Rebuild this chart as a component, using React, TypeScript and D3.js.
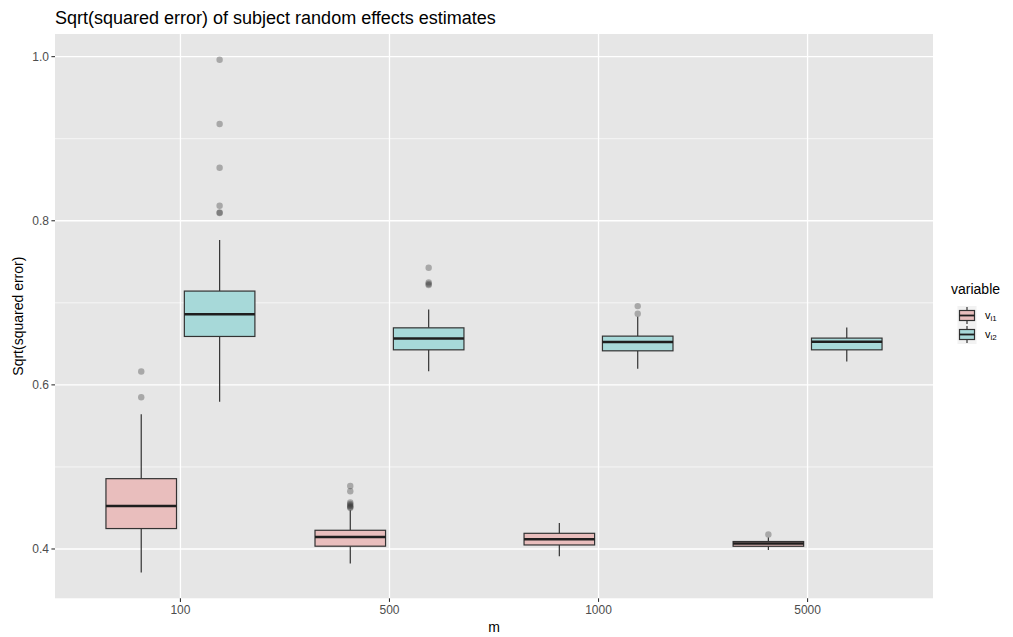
import React from "react";
import * as d3 from "d3";

const categories = ["100", "500", "1000", "5000"];
const seriesKeys = ["vi1", "vi2"];
const seriesColors = ["#E9BEBD", "#A7D9D9"];
const yTicks = [0.4, 0.6, 0.8, 1.0];
const yMinorTicks = [0.5, 0.7, 0.9];

// vi1
const vi1Low = [0.3712, 0.3822, 0.3911, 0.3988];
const vi1Q1 = [0.4249, 0.4034, 0.4049, 0.4033];
const vi1Med = [0.4524, 0.4146, 0.4118, 0.4066];
const vi1Q3 = [0.4857, 0.4228, 0.4191, 0.4091];
const vi1High = [0.5643, 0.4472, 0.4317, 0.414];
const vi1Out = [
  [0.6163, 0.585],
  [0.4768, 0.4704, 0.4568, 0.455, 0.4535, 0.4522, 0.451, 0.45],
  [],
  [0.4176],
];

// vi2
const vi2Low = [0.5793, 0.6167, 0.6195, 0.6285];
const vi2Q1 = [0.659, 0.6427, 0.6415, 0.6427];
const vi2Med = [0.6862, 0.6566, 0.6521, 0.6524];
const vi2Q3 = [0.7143, 0.6695, 0.6594, 0.657];
const vi2High = [0.7765, 0.692, 0.683, 0.67];
const vi2Out = [
  [0.9963, 0.918, 0.8646, 0.8183, 0.81, 0.8094],
  [0.7427, 0.7249, 0.723, 0.7216],
  [0.696, 0.6866],
  [],
];

const W = 1013;
const H = 637;
const panel = { left: 55, right: 933, top: 34, bottom: 598.3 };
const FONT = "'Liberation Sans', Arial, Helvetica, sans-serif";

export default function App() {
  const x = d3
    .scalePoint<string>()
    .domain(categories)
    .range([panel.left, panel.right])
    .padding(0.6);
  const step = x.step();
  const y = d3.scaleLinear().domain([0.3399, 1.0276]).range([panel.bottom, panel.top]);

  const series = [
    { key: "vi1", low: vi1Low, q1: vi1Q1, med: vi1Med, q3: vi1Q3, high: vi1High, out: vi1Out },
    { key: "vi2", low: vi2Low, q1: vi2Q1, med: vi2Med, q3: vi2Q3, high: vi2High, out: vi2Out },
  ];
  const dodge = d3.scaleBand<string>().domain(seriesKeys).range([-0.375 * step, 0.375 * step]);
  const boxW = dodge.bandwidth() * 0.9;

  const lineCol = "#333333";

  return (
    <svg width={W} height={H} style={{ display: "block", position: "absolute", left: 0, top: 0 }}>
      <rect x={0} y={0} width={W} height={H} fill="#ffffff" />
      {/* panel */}
      <rect x={panel.left} y={panel.top} width={panel.right - panel.left} height={panel.bottom - panel.top} fill="#E6E6E6" />
      {yMinorTicks.map((t) => (
        <line key={"mn" + t} x1={panel.left} x2={panel.right} y1={y(t)} y2={y(t)} stroke="#fff" strokeWidth={0.65} />
      ))}
      {yTicks.map((t) => (
        <line key={"mj" + t} x1={panel.left} x2={panel.right} y1={y(t)} y2={y(t)} stroke="#fff" strokeWidth={1.3} />
      ))}
      {categories.map((c) => (
        <line key={"vx" + c} x1={x(c)} x2={x(c)} y1={panel.top} y2={panel.bottom} stroke="#fff" strokeWidth={1.3} />
      ))}

      {/* boxes */}
      {series.map((s, si) =>
        categories.map((c, ci) => {
          const cx = (x(c) as number) + (dodge(s.key) as number) + dodge.bandwidth() / 2;
          return (
            <g key={s.key + c}>
              <line x1={cx} x2={cx} y1={y(s.high[ci])} y2={y(s.q3[ci])} stroke={lineCol} strokeWidth={1.2} />
              <line x1={cx} x2={cx} y1={y(s.q1[ci])} y2={y(s.low[ci])} stroke={lineCol} strokeWidth={1.2} />
              <rect
                x={cx - boxW / 2}
                y={y(s.q3[ci])}
                width={boxW}
                height={y(s.q1[ci]) - y(s.q3[ci])}
                fill={seriesColors[si]}
                stroke={lineCol}
                strokeWidth={1.2}
              />
              <line x1={cx - boxW / 2} x2={cx + boxW / 2} y1={y(s.med[ci])} y2={y(s.med[ci])} stroke="#1e1e1e" strokeWidth={2.5} />
              {s.out[ci].map((v, k) => (
                <circle key={k} cx={cx} cy={y(v)} r={3.2} fill="#333" fillOpacity={0.35} />
              ))}
            </g>
          );
        })
      )}

      {/* y axis */}
      {yTicks.map((t) => (
        <g key={"yt" + t}>
          <line x1={panel.left - 3.6} x2={panel.left} y1={y(t)} y2={y(t)} stroke="#333" strokeWidth={1.1} />
          <text x={panel.left - 6} y={y(t)} dy="0.35em" textAnchor="end" fontSize={12} fill="#4D4D4D" fontFamily={FONT}>
            {t.toFixed(1)}
          </text>
        </g>
      ))}
      {/* x axis */}
      {categories.map((c) => (
        <g key={"xt" + c}>
          <line x1={x(c)} x2={x(c)} y1={panel.bottom} y2={panel.bottom + 3.6} stroke="#333" strokeWidth={1.1} />
          <text x={x(c)} y={panel.bottom + 15.5} textAnchor="middle" fontSize={12} fill="#4D4D4D" fontFamily={FONT}>
            {c}
          </text>
        </g>
      ))}
      <text x={(panel.left + panel.right) / 2} y={632} textAnchor="middle" fontSize={14} fill="#000" fontFamily={FONT}>
        m
      </text>
      <text
        transform={`translate(23, ${(panel.top + panel.bottom) / 2}) rotate(-90)`}
        textAnchor="middle"
        fontSize={14}
        fill="#000"
        fontFamily={FONT}
      >
        Sqrt(squared error)
      </text>
      <text x={55} y={24} fontSize={18} fill="#000" fontFamily={FONT}>
        Sqrt(squared error) of subject random effects estimates
      </text>

      {/* legend */}
      <text x={951} y={294} fontSize={14} fill="#000" fontFamily={FONT}>
        variable
      </text>
      {seriesKeys.map((k, i) => {
        const ky = 306 + i * 19;
        const kx = 957.5;
        const ks = 19;
        const cxk = kx + ks / 2;
        return (
          <g key={"lg" + k}>
            <rect x={kx} y={ky} width={ks} height={ks} fill="#F2F2F2" />
            <line x1={cxk} x2={cxk} y1={ky + 1} y2={ky + ks - 1} stroke={lineCol} strokeWidth={1.2} />
            <rect x={kx + 2} y={ky + 4.5} width={ks - 4} height={ks - 9} fill={seriesColors[i]} stroke={lineCol} strokeWidth={1.2} />
            <line x1={kx + 2} x2={kx + ks - 2} y1={ky + ks / 2} y2={ky + ks / 2} stroke="#1e1e1e" strokeWidth={1.8} />
            <text x={985} y={ky + ks / 2 + 3} fontSize={11} fill="#000" fontFamily={FONT}>
              v
              <tspan fontSize={8} dy={2.5}>
                {k === "vi1" ? "i1" : "i2"}
              </tspan>
            </text>
          </g>
        );
      })}
    </svg>
  );
}
